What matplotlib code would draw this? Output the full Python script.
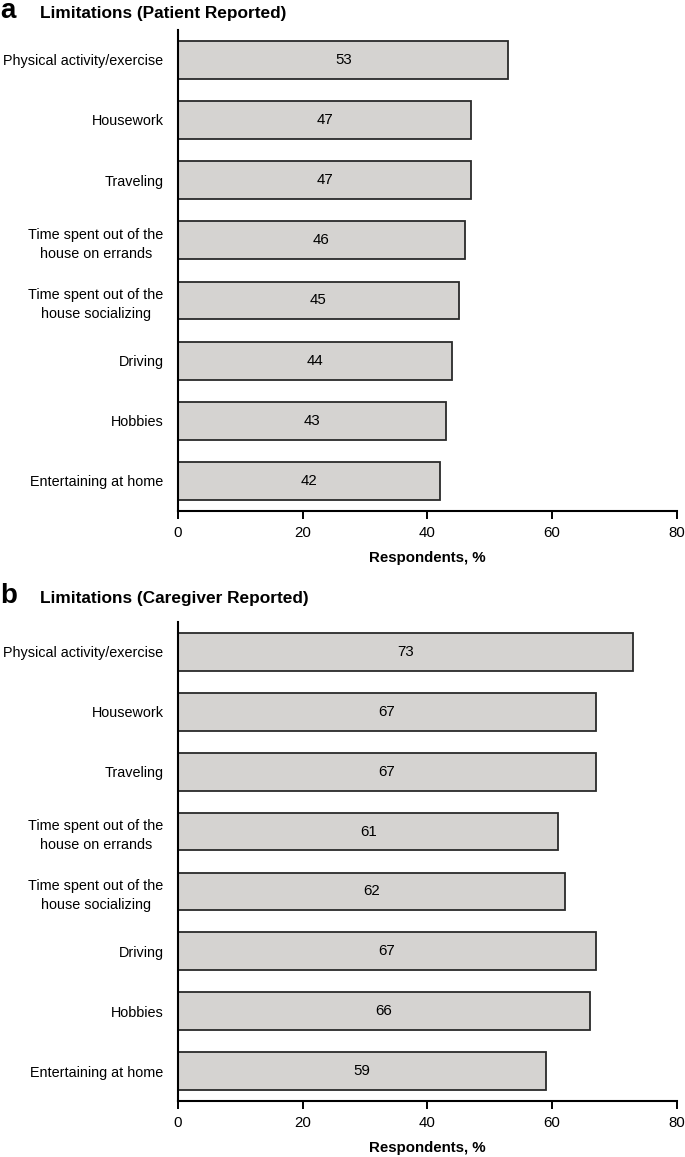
import matplotlib.pyplot as plt

# data
categories = ["Physical activity/exercise", "Housework", "Traveling",
              "Time spent out of the\nhouse on errands",
              "Time spent out of the\nhouse socializing",
              "Driving", "Hobbies", "Entertaining at home"]
patient_vals = [53, 47, 47, 46, 45, 44, 43, 42]
caregiver_vals = [73, 67, 67, 61, 62, 67, 66, 59]
xticks = [0, 20, 40, 60, 80]

plt.rcParams['font.family'] = ['Liberation Sans', 'DejaVu Sans']

fig = plt.figure(figsize=(6.85, 11.57), dpi=100)

# letter, title, values, axes rect, baseline of heading (fig fraction)
panels = [
    ("a", "Limitations (Patient Reported)", patient_vals, [0.260, 0.5583, 0.728, 0.416], 0.9845),
    ("b", "Limitations (Caregiver Reported)", caregiver_vals, [0.260, 0.0484, 0.728, 0.414], 0.479),
]

for letter, title, vals, rect, base in panels:
    ax = fig.add_axes(rect)
    ypos = list(range(len(categories)))
    ax.barh(ypos, vals, height=0.63, color="#d5d3d1",
            edgecolor="#2a2a2a", linewidth=1.3)
    for y, v in zip(ypos, vals):
        ax.text(v / 2, y, str(v), ha="center", va="center", fontsize=10.8)
    ax.set_ylim(7.5, -0.5)
    ax.set_xlim(0, 80)
    ax.set_xticks(xticks)
    ax.set_yticks(ypos)
    ax.set_yticklabels(categories, fontsize=10.4, ha="right",
                       multialignment="center", linespacing=1.45)
    ax.tick_params(axis="y", length=0, pad=10.5)
    ax.tick_params(axis="x", length=6, width=1.4, labelsize=10.8, pad=5)
    ax.spines["top"].set_visible(False)
    ax.spines["right"].set_visible(False)
    ax.spines["left"].set_linewidth(1.5)
    ax.spines["bottom"].set_linewidth(1.5)
    ax.set_xlabel("Respondents, %", fontsize=10.8, fontweight="bold", labelpad=8)
    # panel letter and title
    fig.text(0.0, base, letter, fontsize=20, fontweight="bold", va="baseline")
    fig.text(0.059, base, title, fontsize=12.4, fontweight="bold", va="baseline")

fig.savefig("out.png", dpi=100)
